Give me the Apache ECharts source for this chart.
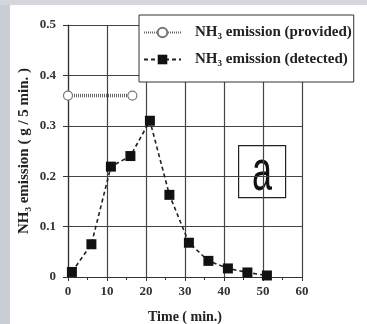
<!DOCTYPE html>
<html>
<head>
<meta charset="utf-8">
<script src="https://cdn.jsdelivr.net/npm/echarts@6/dist/echarts.min.js"></script>
<style>
  html, body { margin: 0; padding: 0; background: #fff; }
  #chart { width: 367px; height: 324px; }
</style>
</head>
<body>
<div id="chart"></div>
<script>
// NH3 emission data
var providedTime = [0, 16.5]
var providedValue = [0.36, 0.36]
var detectedTime = [1, 6, 11, 16, 21, 26, 31, 36, 41, 46, 51]
var detectedValue = [0.01, 0.065, 0.219, 0.24, 0.31, 0.163, 0.068, 0.032, 0.017, 0.009, 0.003]
var xTicks = [0, 10, 20, 30, 40, 50, 60]
var yTicks = [0, 0.1, 0.2, 0.3, 0.4, 0.5]

var serif = '"Liberation Serif", "DejaVu Serif", serif'

function pairs(xs, ys) {
  var out = []
  for (var i = 0; i < xs.length; i++) out.push([xs[i], ys[i]])
  return out
}

var chart = echarts.init(document.getElementById('chart'))
var option = {
  backgroundColor: '#fff',
  animation: false,
  grid: { left: 68, right: 65, top: 25, bottom: 47, containLabel: false, outerBoundsMode: 'none' },
  graphic: [
    // grey photo border
    { type: 'rect', left: 0, top: 0, shape: { width: 10, height: 324 }, style: { fill: '#c9ced4' } },
    { type: 'rect', left: 0, top: 0, shape: { width: 367, height: 5 }, style: { fill: '#d3d7db' } },
    // panel label
    {
      type: 'group', left: 238, top: 145, z: 20,
      children: [
        { type: 'rect', shape: { width: 47, height: 52 }, style: { fill: '#fff', stroke: '#222', lineWidth: 1.2 } },
        {
          type: 'text', x: 23.5, y: 29, scaleX: 1, scaleY: 1.6,
          style: { text: 'a', font: '36px "Liberation Sans", Arial, sans-serif', fill: '#111',
            align: 'center', verticalAlign: 'middle' }
        }
      ]
    }
  ],
  legend: {
    orient: 'vertical',
    left: 139, top: 15,
    padding: [10, 2, 15, 4],
    itemGap: 12,
    itemWidth: 37, itemHeight: 12,
    backgroundColor: '#fff',
    borderColor: '#333', borderWidth: 1,
    textStyle: { fontFamily: serif, fontWeight: 'bold', fontSize: 15, color: '#222', padding: [0, 0, 0, 9] },
    data: ['NH₃ emission (provided)', 'NH₃ emission (detected)']
  },
  xAxis: {
    type: 'value', min: 0, max: 60, interval: 10,
    name: 'Time ( min.)', nameLocation: 'middle', nameGap: 33,
    nameTextStyle: { fontFamily: serif, fontWeight: 'bold', fontSize: 14, color: '#222' },
    axisLine: { lineStyle: { color: '#333', width: 1.2 } },
    axisTick: { show: true, length: 4, lineStyle: { color: '#333' } },
    minorTick: { show: true, splitNumber: 2, length: 3, lineStyle: { color: '#333' } },
    axisLabel: { fontFamily: serif, fontWeight: 'bold', fontSize: 13, color: '#333', margin: 8,
      formatter: function (v) { return xTicks.indexOf(v) >= 0 ? String(v) : '' } },
    splitLine: { show: true, lineStyle: { color: '#444', width: 1.2 } }
  },
  yAxis: {
    type: 'value', min: 0, max: 0.5, interval: 0.1,
    name: 'NH₃ emission ( g / 5 min. )', nameLocation: 'middle', nameGap: 36,
    nameMoveOverlap: false,
    nameTextStyle: { fontFamily: serif, fontWeight: 'bold', fontSize: 15, color: '#222' },
    axisLine: { lineStyle: { color: '#333', width: 1.2 } },
    axisTick: { show: true, length: 5, lineStyle: { color: '#333' } },
    axisLabel: { fontFamily: serif, fontWeight: 'bold', fontSize: 13, color: '#333', margin: 12,
      formatter: function (v) {
        for (var i = 0; i < yTicks.length; i++) {
          if (Math.abs(yTicks[i] - v) < 1e-9) return String(yTicks[i])
        }
        return ''
      } },
    splitLine: { show: true, lineStyle: { color: '#444', width: 1.2 } }
  },
  series: [
    {
      name: 'NH₃ emission (provided)',
      type: 'line',
      data: pairs(providedTime, providedValue),
      symbol: 'circle', symbolSize: 9,
      itemStyle: { color: '#fff', borderColor: '#777', borderWidth: 1.2 },
      lineStyle: { color: '#666', width: 3.5, type: [1, 1] },
      z: 3
    },
    {
      name: 'NH₃ emission (detected)',
      type: 'line',
      data: pairs(detectedTime, detectedValue),
      symbol: 'rect', symbolSize: 10,
      itemStyle: { color: '#111' },
      lineStyle: { color: '#222', width: 1.6, type: [4, 3] },
      z: 4
    }
  ]
}
chart.setOption(option)
</script>
</body>
</html>
